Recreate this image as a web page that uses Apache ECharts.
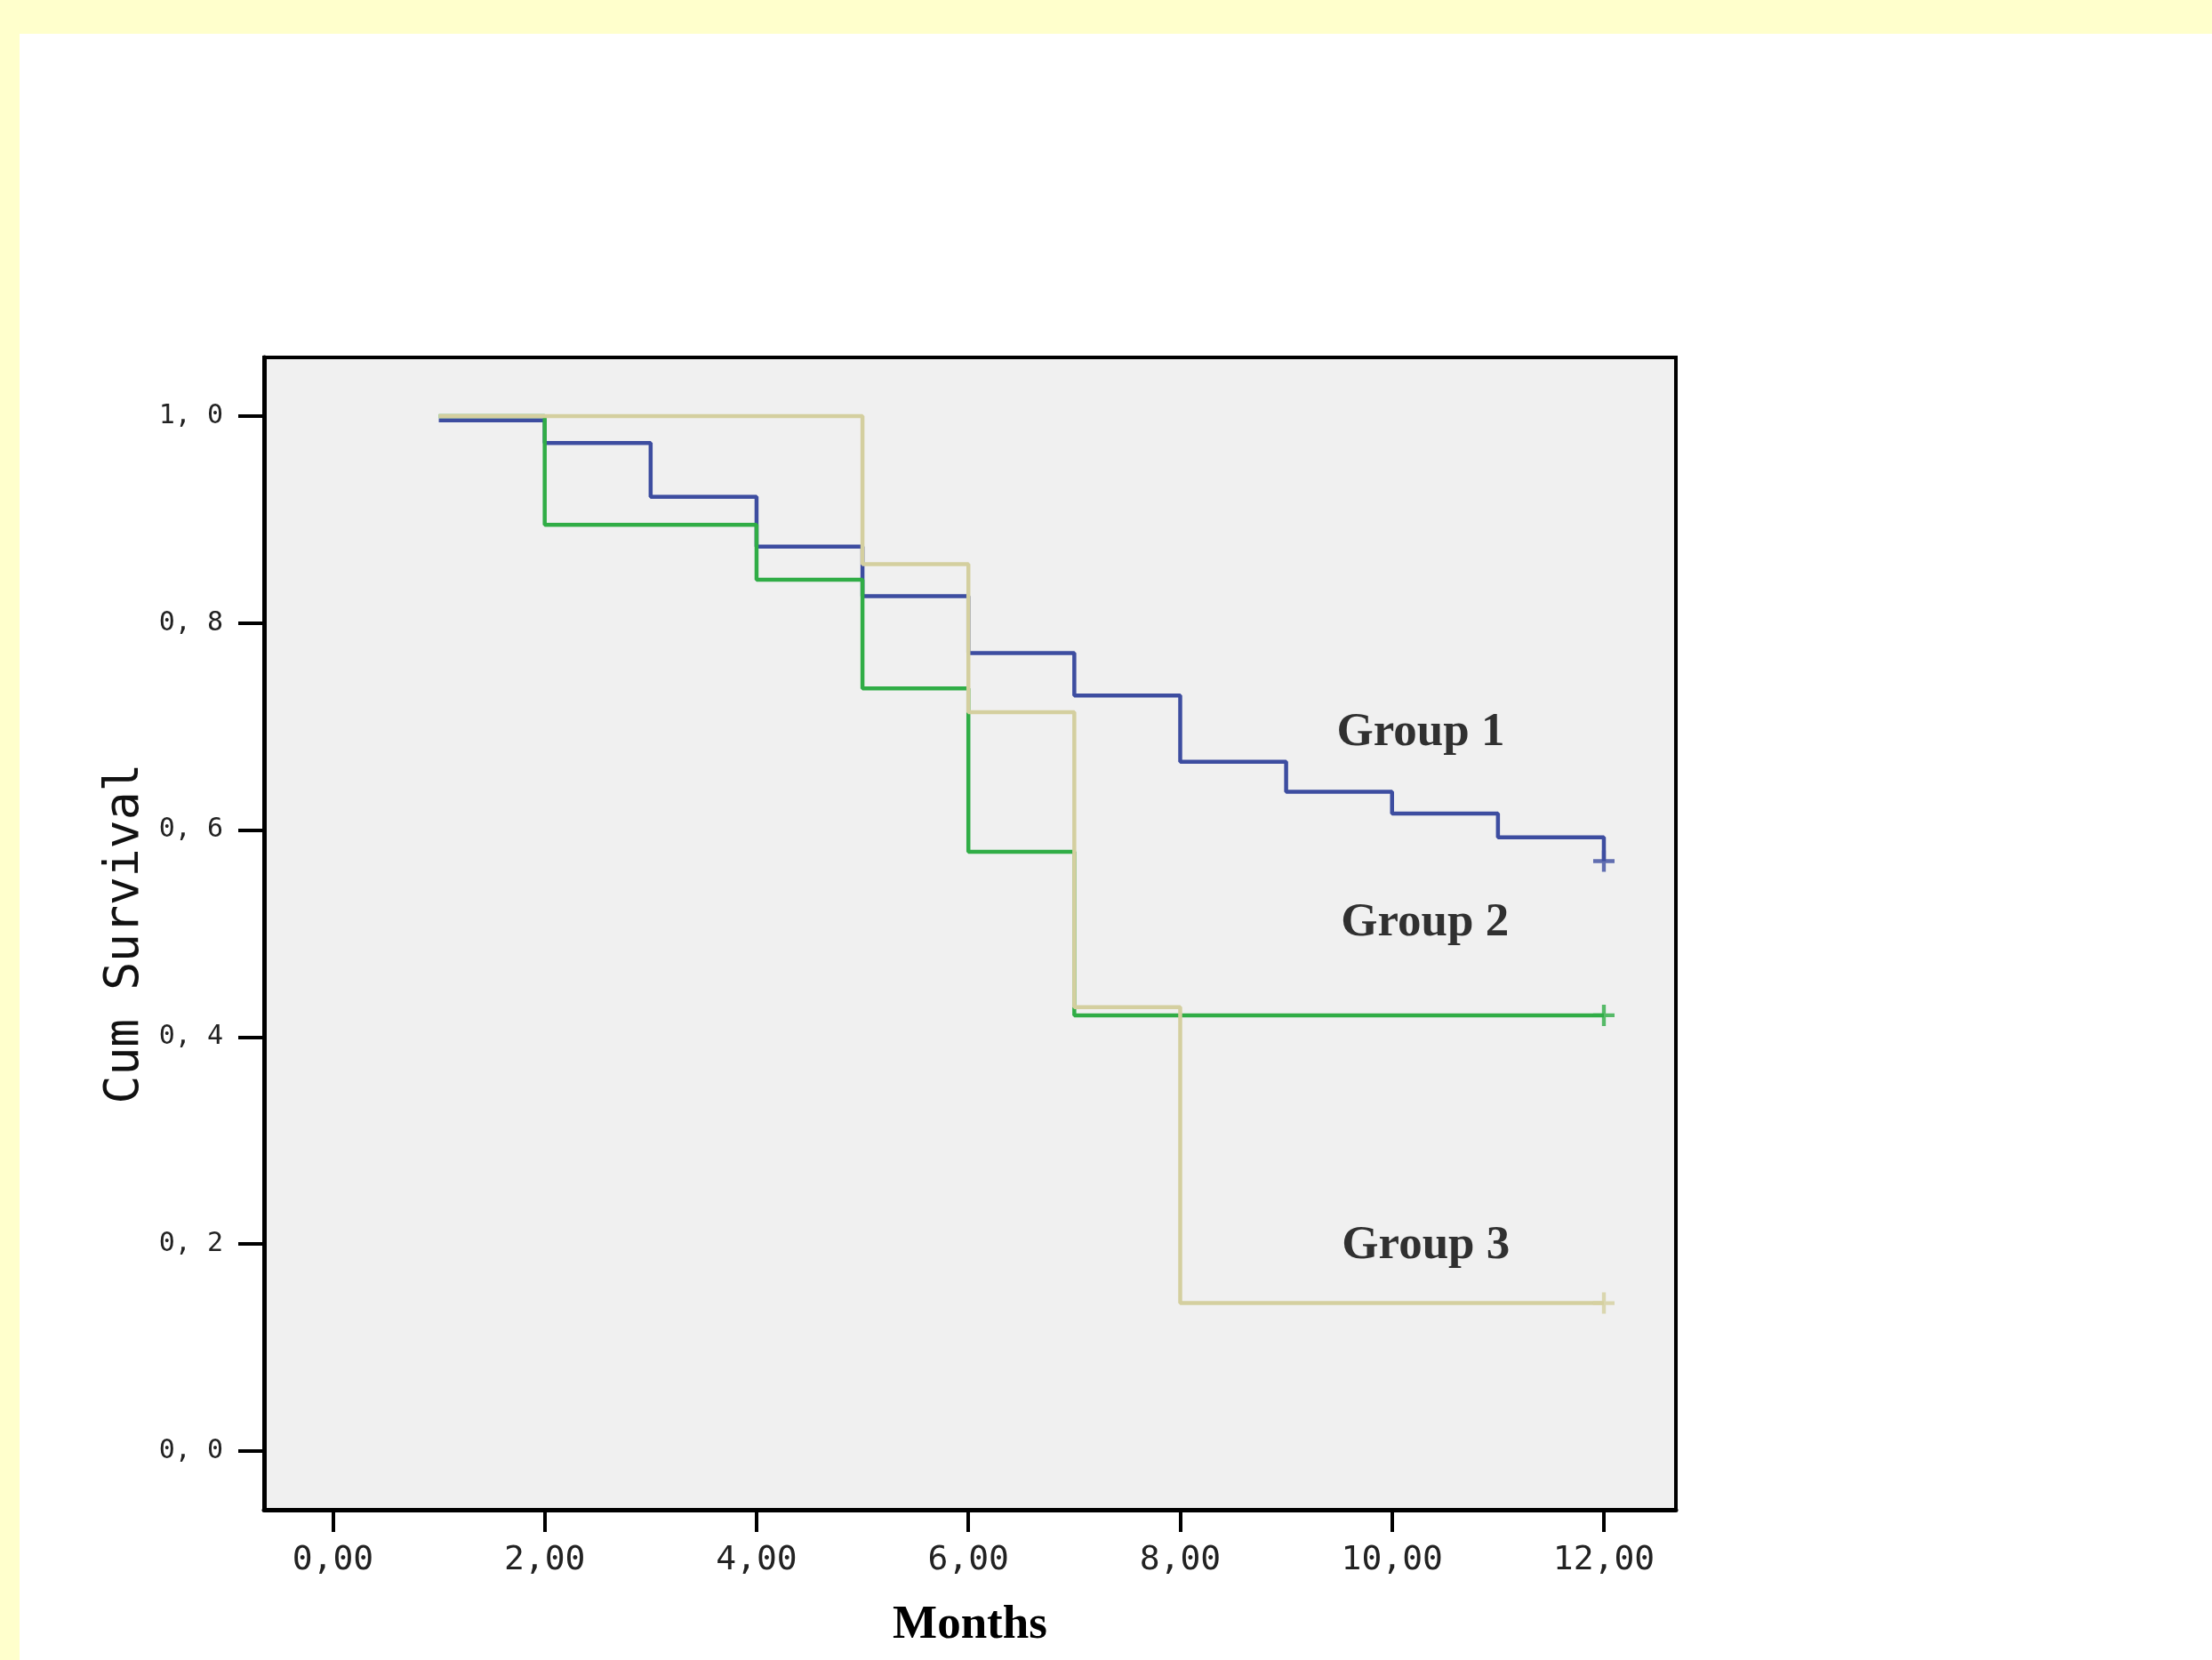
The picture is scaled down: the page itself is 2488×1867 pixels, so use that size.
<!DOCTYPE html>
<html>
<head>
<meta charset="utf-8">
<script src="https://cdn.jsdelivr.net/npm/echarts@6/dist/echarts.min.js"></script>
<style>
  html, body { margin: 0; padding: 0; background: #ffffff; }
  #chart { width: 2488px; height: 1867px; }
</style>
</head>
<body>
<div id="chart"></div>
<script>
// ---- Data (Kaplan-Meier curves) ----
const groupNames = ['Group 1', 'Group 2', 'Group 3'];

const times1 = [1, 2, 3, 4, 5, 6, 7, 8, 9, 10, 11, 12];
const surv1  = [0.996, 0.974, 0.922, 0.874, 0.826, 0.771, 0.730, 0.666, 0.637, 0.616, 0.593, 0.570];

const times2 = [1, 2, 4, 5, 6, 7, 12];
const surv2  = [1.0, 0.895, 0.842, 0.737, 0.579, 0.421, 0.421];

const times3 = [1, 5, 6, 7, 8, 12];
const surv3  = [1.0, 0.857, 0.714, 0.429, 0.143, 0.143];

// censored observations (+ marks)
const censorTime = [12, 12, 12];
const censorSurv = [0.570, 0.421, 0.143];

// axis ticks
const xTickValues = [0, 2, 4, 6, 8, 10, 12];
const xTickLabels = ['0,00', '2,00', '4,00', '6,00', '8,00', '10,00', '12,00'];
const yTickValues = [0, 0.2, 0.4, 0.6, 0.8, 1.0];
const yTickLabels = ['0, 0', '0, 2', '0, 4', '0, 6', '0, 8', '1, 0'];

const xName = 'Months';
const yName = 'Cum Survival';

// ---- Styling ----
const colors = ['#3D4DA0', '#30AD46', '#D4CF9F'];
const labelAnchors = [[10.27, 0.694], [10.31, 0.510], [10.32, 0.198]];

function pairs(t, s) { return t.map((v, i) => [v, s[i]]); }
const plusPath = 'path://M0,8.2 H20 V11.8 H0 Z M8.2,0 H11.8 V20 H8.2 Z';

const curves = [pairs(times1, surv1), pairs(times2, surv2), pairs(times3, surv3)];

const series = [];
curves.forEach((d, i) => {
  series.push({
    type: 'line',
    name: groupNames[i],
    step: 'end',
    data: d,
    showSymbol: false,
    symbol: 'none',
    lineStyle: { color: colors[i], width: 4.5 },
    z: 2 + i
  });
});
censorTime.forEach((t, i) => {
  series.push({
    type: 'scatter',
    data: [[t, censorSurv[i]]],
    symbol: plusPath,
    symbolSize: 24,
    itemStyle: { color: colors[i] },
    z: 6 + i
  });
});
groupNames.forEach((n, i) => {
  series.push({
    type: 'scatter',
    data: [labelAnchors[i]],
    symbolSize: 1,
    itemStyle: { color: 'rgba(0,0,0,0)' },
    label: {
      show: true,
      position: 'inside',
      formatter: n,
      fontFamily: 'Liberation Serif',
      fontWeight: 'bold',
      fontSize: 53,
      color: '#000'
    },
    z: 10
  });
});

const chart = echarts.init(document.getElementById('chart'));
chart.setOption({
  animation: false,
  backgroundColor: '#ffffff',
  graphic: [
    { type: 'rect', shape: { x: 0, y: 0, width: 2488, height: 38 }, style: { fill: '#FFFFCC' }, z: -1 },
    { type: 'rect', shape: { x: 0, y: 0, width: 22, height: 1867 }, style: { fill: '#FFFFCC' }, z: -1 }
  ],
  grid: {
    left: 297, top: 402, right: 603, bottom: 169,
    show: true,
    backgroundColor: '#F0F0F0',
    borderColor: '#000',
    borderWidth: 4
  },
  xAxis: {
    type: 'value',
    min: -0.65, max: 12.68,
    splitLine: { show: false },
    axisLine: { show: true, onZero: false, lineStyle: { color: '#000', width: 5 } },
    axisTick: { show: true, length: 25, lineStyle: { color: '#000', width: 4 }, customValues: xTickValues },
    axisLabel: {
      customValues: xTickValues,
      formatter: v => xTickLabels[xTickValues.indexOf(v)],
      fontFamily: 'DejaVu Sans Mono', fontSize: 38, color: '#222', margin: 38
    },
    name: xName,
    nameLocation: 'middle',
    nameGap: 104,
    nameTextStyle: { fontFamily: 'Liberation Serif', fontWeight: 'bold', fontSize: 53, color: '#000' }
  },
  yAxis: {
    type: 'value',
    min: -0.0567, max: 1.0567,
    splitLine: { show: false },
    axisLine: { show: true, onZero: false, lineStyle: { color: '#000', width: 5 } },
    axisTick: { show: true, length: 29, lineStyle: { color: '#000', width: 4 }, customValues: yTickValues },
    axisLabel: {
      customValues: yTickValues,
      formatter: v => yTickLabels[yTickValues.indexOf(v)],
      fontFamily: 'DejaVu Sans Mono', fontSize: 30, color: '#222', margin: 46,
      padding: [10, 0, 0, 0]
    },
    name: yName,
    nameLocation: 'middle',
    nameGap: 108,
    nameTextStyle: { fontFamily: 'DejaVu Sans Mono', fontSize: 53, color: '#111' }
  },
  series: series
});
</script>
</body>
</html>
